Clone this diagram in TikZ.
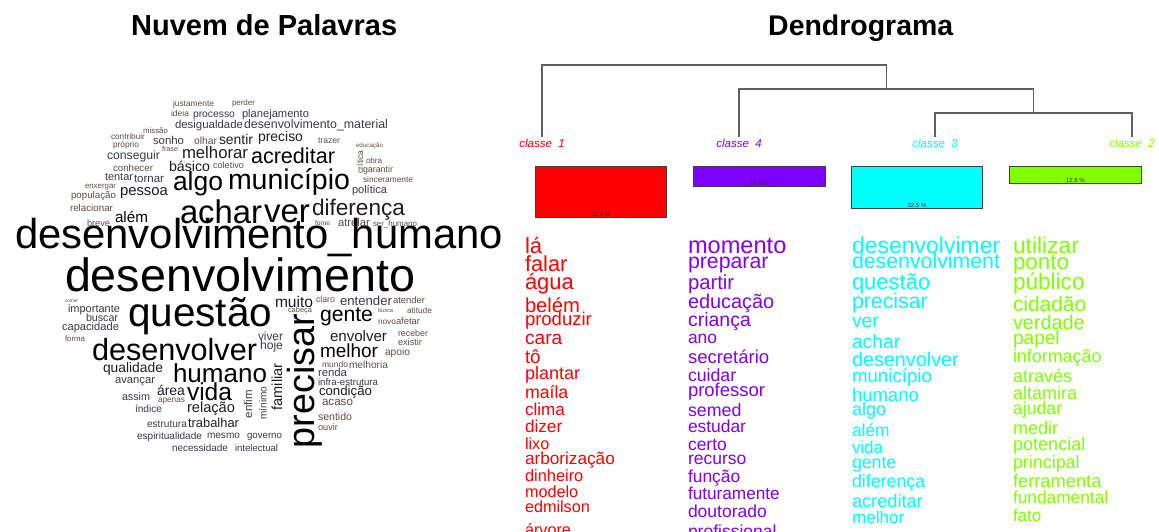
\documentclass[tikz,border=0pt]{standalone}
\usepackage{fontspec}
\setmainfont{Liberation Sans}
\usepackage{graphicx}
\definecolor{k1}{HTML}{FF0000}
\definecolor{k2}{HTML}{80FF00}
\definecolor{k3}{HTML}{00FFFF}
\definecolor{k4}{HTML}{8000FF}
\definecolor{c1}{HTML}{000000}
\definecolor{c2}{HTML}{1E1E1E}
\definecolor{c3}{HTML}{3A3A46}
\definecolor{c4}{HTML}{5C4E46}
\newcounter{wc}
\tikzset{
  cloudw/.style={inner sep=0pt,outer sep=0pt},
  colw/.style={inner sep=0pt,outer sep=0pt},
  dend/.style={draw=black!62,line width=1.3pt},
  leaf/.style={inner sep=0pt,font=\fontsize{11.5}{11.5}\selectfont\itshape},
  boxst/.style={draw=black!75,line width=0.8pt,inner sep=0pt,anchor=north west},
  pct/.style={inner sep=0.6pt,anchor=south,text=black!80,font=\fontsize{6}{6}\selectfont},
  ttl/.style={inner sep=0pt,anchor=base west}
}
\newcommand\cloudword[5]{\stepcounter{wc}\node[cloudw,text=#5,anchor=base west] (w\thewc) at (#1,#2) {\resizebox{#3pt}{!}{#4}};}
\newcommand\cloudrot[5]{\stepcounter{wc}\node[cloudw,text=#5,rotate=90,anchor=center] (w\thewc) at (#1,#2) {\resizebox{#3pt}{!}{#4}};}
\newcommand\colword[5]{\stepcounter{wc}\node[colw,text=#1,anchor=base west] (w\thewc) at (#2,#3) {\fontsize{#4}{#4}\selectfont #5};}
\begin{document}
\begin{tikzpicture}[x=1pt,y=-1pt]
\useasboundingbox (0,0) rectangle (1159,531);
\clip (0,0) rectangle (1159,531);
% titles
\node[ttl] (tcloud) at (131,35) {\resizebox{266pt}{!}{\bfseries Nuvem de Palavras}};
\node[ttl] (tdend) at (768,35) {\resizebox{185pt}{!}{\bfseries Dendrograma}};
% word cloud
\cloudword{173}{106}{41}{justamente}{c4}
\cloudword{232}{105}{23}{perder}{c4}
\cloudword{171}{116}{18}{ideia}{c4}
\cloudword{193}{117}{42}{processo}{c3}
\cloudword{242}{117}{67}{planejamento}{c3}
\cloudword{175}{128}{68}{desigualdade}{c3}
\cloudword{244}{128}{144}{desenvolvimento\_material}{c3}
\cloudword{111}{139}{34}{contribuir}{c4}
\cloudword{143}{133}{25}{missão}{c4}
\cloudword{113}{147}{26}{próprio}{c4}
\cloudword{153}{144}{31}{sonho}{c3}
\cloudword{194}{144}{23}{olhar}{c4}
\cloudword{219}{144}{34}{sentir}{c2}
\cloudword{258}{141}{45}{preciso}{c2}
\cloudword{318}{143}{22}{trazer}{c4}
\cloudword{356}{147}{27}{educação}{c4}
\cloudrot{360}{162}{23}{crítica}{c4}
\cloudword{366}{163}{16}{obra}{c4}
\cloudword{363}{172}{30}{garantir}{c4}
\cloudword{363}{182}{50}{sinceramente}{c4}
\cloudword{352}{193}{35}{política}{c3}
\cloudword{162}{151}{16}{frase}{c4}
\cloudword{182}{158}{66}{melhorar}{c2}
\cloudword{251}{163}{84}{acreditar}{c1}
\cloudword{107}{159}{53}{conseguir}{c3}
\cloudword{169}{171}{41}{básico}{c2}
\cloudword{213}{168}{31}{coletivo}{c4}
\cloudword{113}{171}{40}{conhecer}{c4}
\cloudword{105}{180}{28}{tentar}{c3}
\cloudword{134}{182}{30}{tornar}{c3}
\cloudword{173}{190}{50}{algo}{c1}
\cloudword{228}{189}{122}{município}{c1}
\cloudword{85}{188}{31}{enxergar}{c4}
\cloudword{120}{195}{48}{pessoa}{c2}
\cloudword{71}{198}{45}{população}{c4}
\cloudword{70}{211}{43}{relacionar}{c4}
\cloudword{115}{222}{33}{além}{c1}
\cloudword{180}{223}{82}{achar}{c1}
\cloudword{264}{222}{46}{ver}{c1}
\cloudword{87}{226}{23}{breve}{c4}
\cloudword{312}{215}{93}{diferença}{c2}
\cloudword{315}{225}{15}{fome}{c4}
\cloudword{338}{226}{32}{atrelar}{c4}
\cloudword{373}{226}{44}{ser\_humano}{c4}
\cloudword{15}{248}{488}{desenvolvimento\_humano}{c1}
\cloudword{65}{291}{350}{desenvolvimento}{c1}
\cloudword{65}{302}{13}{comer}{c4}
\cloudword{68}{312}{52}{importante}{c3}
\cloudword{86}{321}{32}{buscar}{c3}
\cloudword{62}{330}{57}{capacidade}{c3}
\cloudword{128}{326}{144}{questão}{c1}
\cloudword{275}{307}{38}{muito}{c2}
\cloudword{316}{302}{19}{claro}{c4}
\cloudword{340}{305}{52}{entender}{c3}
\cloudword{393}{303}{32}{atender}{c4}
\cloudword{288}{312}{24}{cabeça}{c4}
\cloudword{378}{312}{15}{busca}{c4}
\cloudword{407}{313}{25}{atitude}{c4}
\cloudword{320}{321}{53}{gente}{c1}
\cloudword{378}{324}{18}{novo}{c4}
\cloudword{396}{324}{24}{afetar}{c4}
\cloudrot{305}{381}{134}{precisar}{c1}
\cloudword{92}{360}{165}{desenvolver}{c1}
\cloudword{65}{341}{20}{forma}{c4}
\cloudword{258}{340}{25}{viver}{c3}
\cloudword{260}{349}{23}{hoje}{c3}
\cloudword{330}{341}{57}{envolver}{c2}
\cloudword{398}{336}{30}{receber}{c4}
\cloudword{398}{345}{24}{existir}{c4}
\cloudword{320}{357}{58}{melhor}{c1}
\cloudword{385}{355}{25}{apoio}{c4}
\cloudword{322}{367}{26}{mundo}{c4}
\cloudword{349}{368}{39}{melhoria}{c4}
\cloudword{318}{376}{29}{renda}{c3}
\cloudword{318}{385}{60}{infra-estrutura}{c3}
\cloudword{319}{395}{53}{condição}{c2}
\cloudword{322}{405}{31}{acaso}{c4}
\cloudword{318}{420}{34}{sentido}{c4}
\cloudword{318}{430}{20}{ouvir}{c4}
\cloudrot{277}{387}{47}{familiar}{c2}
\cloudrot{263}{403}{33}{mínimo}{c3}
\cloudrot{248}{404}{28}{enfim}{c3}
\cloudword{173}{382}{94}{humano}{c1}
\cloudword{103}{372}{60}{qualidade}{c2}
\cloudword{115}{383}{40}{avançar}{c3}
\cloudword{157}{395}{28}{área}{c2}
\cloudword{187}{400}{45}{vida}{c1}
\cloudword{122}{400}{28}{assim}{c3}
\cloudword{158}{402}{27}{apenas}{c4}
\cloudword{135}{412}{27}{índice}{c3}
\cloudword{187}{412}{48}{relação}{c2}
\cloudword{147}{427}{40}{estrutura}{c3}
\cloudword{188}{427}{51}{trabalhar}{c2}
\cloudword{137}{439}{65}{espiritualidade}{c3}
\cloudword{207}{438}{33}{mesmo}{c3}
\cloudword{247}{438}{35}{governo}{c3}
\cloudword{172}{451}{56}{necessidade}{c3}
\cloudword{235}{451}{43}{intelectual}{c3}
% dendrogram
\node[leaf,text=k1] (c1) at (542,143) {classe\hspace{0.55em}1};
\node[leaf,text=k4] (c4) at (739,143) {classe\hspace{0.55em}4};
\node[leaf,text=k3] (c3) at (935,143) {classe\hspace{0.55em}3};
\node[leaf,text=k2] (c2) at (1132,143) {classe\hspace{0.55em}2};
\coordinate (l1) at (542,137);
\coordinate (l4) at (739,137);
\coordinate (l3) at (935,137);
\coordinate (l2) at (1132,137);
\coordinate (m1) at (886.5,65);
\coordinate (m2) at (886.5,89);
\coordinate (m3) at (1033.5,113);
\draw[dend] (l1) |- (m1) -- (m2);
\draw[dend] (l4) |- (m2) -| (m3);
\draw[dend] (l3) |- (m3) -| (l2);
% boxes
\node[boxst,fill=k1,minimum width=131pt,minimum height=51pt] (b1) at (535,166) {};
\node[boxst,fill=k4,minimum width=132pt,minimum height=20pt] (b4) at (693,166) {};
\node[boxst,fill=k3,minimum width=131pt,minimum height=42pt] (b3) at (851,166) {};
\node[boxst,fill=k2,minimum width=132pt,minimum height=17pt] (b2) at (1009,166) {};
\node[pct] (p1) at (b1.south) {39.5 \%};
\node[pct] (p4) at (b4.south) {15.2 \%};
\node[pct] (p3) at (b3.south) {32.5 \%};
\node[pct] (p2) at (b2.south) {12.8 \%};
% class 1 words
\colword{k1}{525}{253}{22}{lá}
\colword{k1}{525}{271}{21.8}{falar}
\colword{k1}{525}{289}{22}{água}
\colword{k1}{525}{312}{20.2}{belém}
\colword{k1}{525}{325}{18.5}{produzir}
\colword{k1}{525}{344}{19.2}{cara}
\colword{k1}{525}{363}{18.8}{tô}
\colword{k1}{525}{379}{18}{plantar}
\colword{k1}{525}{398}{17.7}{maíla}
\colword{k1}{525}{415}{17.1}{clima}
\colword{k1}{525}{432}{17.2}{dizer}
\colword{k1}{525}{449}{16.2}{lixo}
\colword{k1}{525}{464}{17.2}{arborização}
\colword{k1}{525}{481}{16.4}{dinheiro}
\colword{k1}{525}{497}{16.2}{modelo}
\colword{k1}{525}{512}{16.2}{edmilson}
\colword{k1}{525}{535}{16.2}{árvore}
% class 4 words
\colword{k4}{688}{253}{23.6}{momento}
\colword{k4}{688}{268}{21.3}{preparar}
\colword{k4}{688}{289}{20.3}{partir}
\colword{k4}{688}{308}{19.9}{educação}
\colword{k4}{688}{326}{19.5}{criança}
\colword{k4}{688}{343}{17.4}{ano}
\colword{k4}{688}{363}{18.5}{secretário}
\colword{k4}{688}{381}{17.7}{cuidar}
\colword{k4}{688}{396}{18.5}{professor}
\colword{k4}{688}{416}{17.8}{semed}
\colword{k4}{688}{432}{17.4}{estudar}
\colword{k4}{688}{450}{17.5}{certo}
\colword{k4}{688}{464}{17.5}{recurso}
\colword{k4}{688}{482}{17.4}{função}
\colword{k4}{688}{499}{17.2}{futuramente}
\colword{k4}{688}{517}{17.5}{doutorado}
\colword{k4}{688}{537}{17.5}{profissional}
% class 3 words
\begin{scope}
\clip (845,225) rectangle (999,531);
\colword{k3}{852}{253}{23}{desenvolvimento\_humano}
\colword{k3}{852}{268}{21.3}{desenvolvimento}
\colword{k3}{852}{289}{22}{questão}
\colword{k3}{852}{308}{21.3}{precisar}
\colword{k3}{852}{327}{19.2}{ver}
\colword{k3}{852}{348}{19.3}{achar}
\colword{k3}{852}{366}{19.8}{desenvolver}
\colword{k3}{852}{382}{18.7}{município}
\colword{k3}{852}{401}{18.5}{humano}
\colword{k3}{852}{415}{18}{algo}
\colword{k3}{852}{436}{17.4}{além}
\colword{k3}{852}{453}{16.9}{vida}
\colword{k3}{852}{468}{17.7}{gente}
\colword{k3}{852}{487}{17.8}{diferença}
\colword{k3}{852}{507}{18.2}{acreditar}
\colword{k3}{852}{523}{17.1}{melhor}
\end{scope}
% class 2 words
\colword{k2}{1013}{253}{22.8}{utilizar}
\colword{k2}{1013}{269}{22.4}{ponto}
\colword{k2}{1013}{289}{22.6}{público}
\colword{k2}{1013}{311}{20.9}{cidadão}
\colword{k2}{1013}{329}{19.8}{verdade}
\colword{k2}{1013}{344}{19.1}{papel}
\colword{k2}{1013}{362}{17.9}{informação}
\colword{k2}{1013}{382}{18}{através}
\colword{k2}{1013}{399}{18}{altamira}
\colword{k2}{1013}{414}{17.7}{ajudar}
\colword{k2}{1013}{434}{18}{medir}
\colword{k2}{1013}{450}{18.1}{potencial}
\colword{k2}{1013}{468}{17.9}{principal}
\colword{k2}{1013}{487}{18.3}{ferramenta}
\colword{k2}{1013}{503}{17.3}{fundamental}
\colword{k2}{1013}{521}{17}{fato}
\end{tikzpicture}
\end{document}
